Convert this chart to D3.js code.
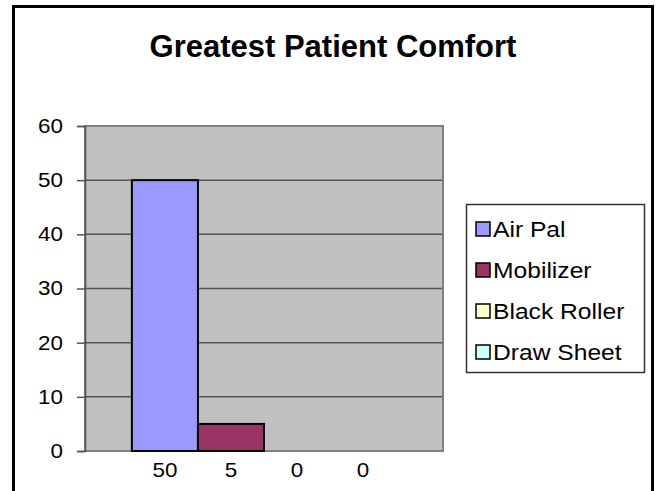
<!DOCTYPE html>
<html>
<head>
<meta charset="utf-8">
<script src="https://cdn.jsdelivr.net/npm/d3@7"></script>
<style>
  body { margin: 0; background: #fff; }
  text { font-family: "Liberation Sans", Arial, sans-serif; }
</style>
</head>
<body>
<div id="chart"></div>
<script>
var titleText = "Greatest Patient Comfort";
var seriesNames = ["Air Pal", "Mobilizer", "Black Roller", "Draw Sheet"];
var seriesValues = [50, 5, 0, 0];
var seriesColors = ["#9999FF", "#993366", "#FFFFCC", "#CCFFFF"];
var yTicks = [0, 10, 20, 30, 40, 50, 60];
// the category axis shows the values under each bar
var xLabels = ["50", "5", "0", "0"];

// the source text is a bit wider than plain Arial
var stretch = 1.12;

window.onload = function(){
    drawChart();
}

function drawChart(){
    var width = 658, height = 491;
    var plot = { left: 85, right: 443, top: 126, bottom: 451 };

    var svg = d3.select("#chart")
        .append("svg").attr("width", width).attr("height", height);

    // outer frame (cut off at the bottom like the slide)
    svg.append("rect")
        .attr("x", 13.5).attr("y", 6.5)
        .attr("width", 639).attr("height", 520)
        .attr("fill", "#fff").attr("stroke", "#000").attr("stroke-width", 3);

    svg.append("text")
        .text(titleText)
        .attr("x", 333).attr("y", 57)
        .attr("text-anchor", "middle")
        .attr("font-size", "31px")
        .attr("font-weight", "bold");

    var data = seriesNames.map(function(n, i){
        return { name: n, value: seriesValues[i], color: seriesColors[i], label: xLabels[i] };
    });

    var x = d3.scaleBand()
        .domain(seriesNames)
        .range([plot.left, plot.right])
        .paddingInner(0)
        .paddingOuter(0.71);

    var y = d3.scaleLinear()
        .domain([0, 60])
        .range([plot.bottom, plot.top]);

    // plot area background
    svg.append("rect")
        .attr("x", plot.left).attr("y", plot.top)
        .attr("width", plot.right - plot.left).attr("height", plot.bottom - plot.top)
        .attr("fill", "#C0C0C0");

    // gridlines
    svg.append("g").selectAll("line").data(yTicks.slice(1)).enter().append("line")
        .attr("x1", plot.left).attr("x2", plot.right)
        .attr("y1", function(d){ return y(d); })
        .attr("y2", function(d){ return y(d); })
        .attr("stroke", "#555").attr("stroke-width", 1.5);

    // plot border
    svg.append("rect")
        .attr("x", plot.left).attr("y", plot.top)
        .attr("width", plot.right - plot.left).attr("height", plot.bottom - plot.top)
        .attr("fill", "none").attr("stroke", "#808080").attr("stroke-width", 2);

    // bars
    svg.append("g").selectAll("rect")
        .data(data.filter(function(d){ return d.value > 0; }))
        .enter().append("rect")
        .attr("x", function(d){ return x(d.name); })
        .attr("y", function(d){ return y(d.value); })
        .attr("width", x.bandwidth())
        .attr("height", function(d){ return y(0) - y(d.value); })
        .attr("fill", function(d){ return d.color; })
        .attr("stroke", "#000").attr("stroke-width", 2);

    // y axis
    var yAxis = svg.append("g")
        .attr("transform", "translate(" + plot.left + ",0)")
        .call(d3.axisLeft(y).tickValues(yTicks).tickSize(8).tickPadding(14));
    yAxis.select(".domain").attr("stroke", "#555").attr("stroke-width", 1.5);
    yAxis.selectAll(".tick line").attr("stroke", "#555").attr("stroke-width", 1.5);
    yAxis.selectAll(".tick text")
        .attr("font-family", "Liberation Sans, Arial, sans-serif")
        .attr("font-size", "20px").attr("fill", "#000")
        .attr("x", -22 / stretch)
        .attr("transform", "scale(" + stretch + ",1)");

    // category labels
    svg.append("g").selectAll("g").data(data).enter().append("g")
        .attr("transform", function(d){
            return "translate(" + (x(d.name) + x.bandwidth() / 2) + ",477) scale(" + stretch + ",1)";
        })
        .append("text")
        .text(function(d){ return d.label; })
        .attr("text-anchor", "middle")
        .attr("font-size", "20px");

    // legend
    var legend = svg.append("g");
    legend.append("rect")
        .attr("x", 466.5).attr("y", 204.5)
        .attr("width", 178).attr("height", 168)
        .attr("fill", "#fff").attr("stroke", "#333").attr("stroke-width", 1.5);

    var rows = legend.selectAll("g.row").data(data).enter().append("g")
        .attr("class", "row")
        .attr("transform", function(d, i){ return "translate(476," + (229 + i * 41) + ")"; });
    rows.append("rect")
        .attr("x", 0).attr("y", -7)
        .attr("width", 14).attr("height", 14)
        .attr("fill", function(d){ return d.color; })
        .attr("stroke", "#000").attr("stroke-width", 1.5);
    rows.append("g")
        .attr("transform", "translate(17,8) scale(" + stretch + ",1)")
        .append("text")
        .text(function(d){ return d.name; })
        .attr("font-size", "22px");
}
</script>
</body>
</html>
